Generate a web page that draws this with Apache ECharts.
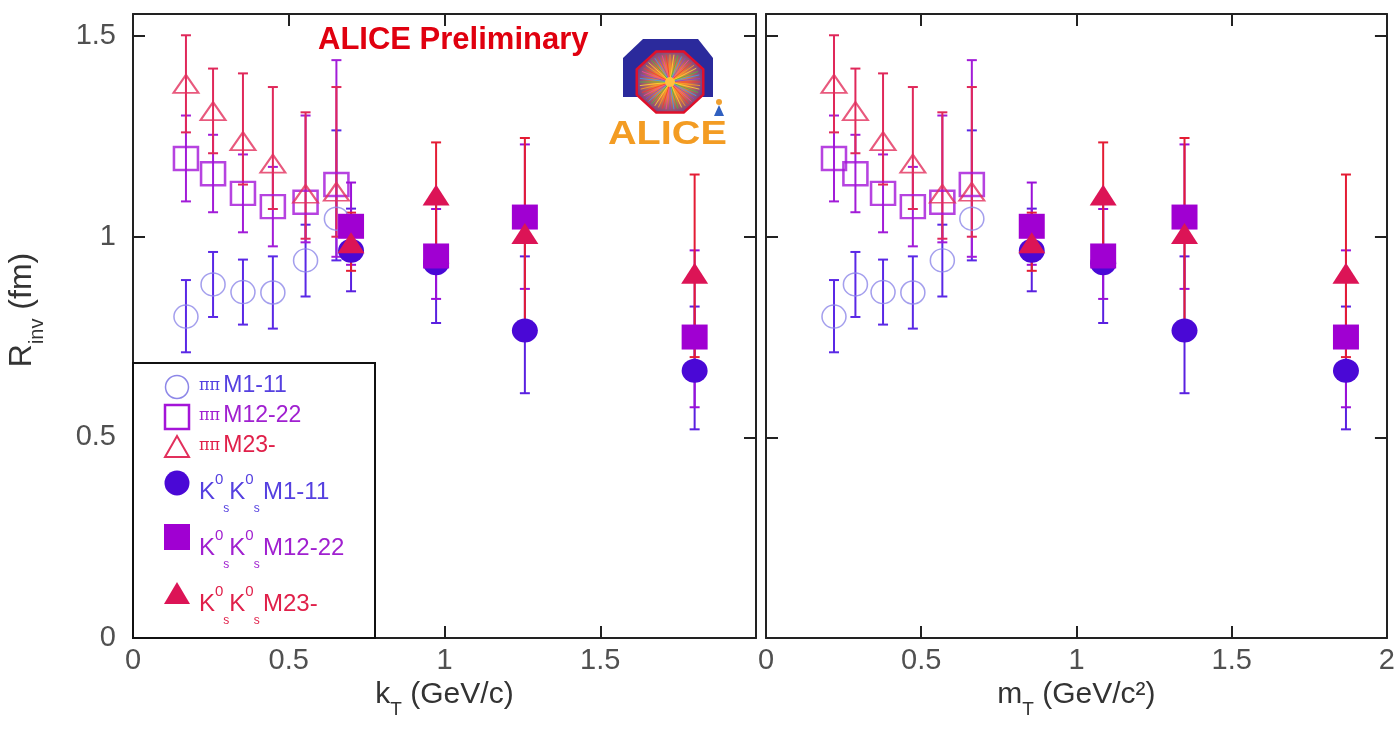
<!DOCTYPE html>
<html><head><meta charset="utf-8">
<script src="https://cdn.jsdelivr.net/npm/echarts@6/dist/echarts.min.js"></script>
<style>html,body{margin:0;padding:0;background:#fff}#c{width:1398px;height:740px}</style>
</head><body><div id="c"></div>
<script>
// ---- data ----
const kT_pi = [0.170, 0.257, 0.353, 0.449, 0.554, 0.653];
const mT_pi = [0.219, 0.288, 0.377, 0.473, 0.568, 0.663];
const kT_K  = [0.700, 0.973, 1.258, 1.803];
const mT_K  = [0.856, 1.086, 1.348, 1.868];

const piM1    = [0.801, 0.881, 0.862, 0.861, 0.941, 1.045];
const piM1_lo = [0.712, 0.800, 0.781, 0.771, 0.851, 0.941];
const piM1_hi = [0.892, 0.962, 0.943, 0.951, 1.030, 1.265];
const piM2    = [1.195, 1.157, 1.108, 1.075, 1.086, 1.130];
const piM2_lo = [1.088, 1.061, 1.011, 0.976, 0.986, 0.950];
const piM2_hi = [1.302, 1.254, 1.205, 1.174, 1.302, 1.440];
const piM3    = [1.381, 1.313, 1.238, 1.182, 1.107, 1.112];
const piM3_lo = [1.260, 1.208, 1.130, 1.069, 0.995, 1.000];
const piM3_hi = [1.502, 1.419, 1.407, 1.373, 1.310, 1.373];
const KM1     = [0.965, 0.934, 0.766, 0.666];
const KM1_lo  = [0.864, 0.785, 0.610, 0.520];
const KM1_hi  = [1.070, 1.083, 0.951, 0.826];
const KM2     = [1.026, 0.952, 1.049, 0.750];
const KM2_lo  = [0.930, 0.845, 0.870, 0.575];
const KM2_hi  = [1.135, 1.069, 1.230, 0.966];
const KM3     = [0.985, 1.104, 1.008, 0.909];
const KM3_lo  = [0.915, 0.965, 0.770, 0.700];
const KM3_hi  = [1.060, 1.235, 1.246, 1.155];

const xTicks = [0, 0.5, 1, 1.5, 2];
const yTicks = [0, 0.5, 1, 1.5];

// ---- styles ----
const FONT = 'Liberation Sans, Arial, Helvetica, sans-serif';
const sets = [
  {name:'piM1', kx:kT_pi, mx:mT_pi, y:piM1, lo:piM1_lo, hi:piM1_hi, symbol:'circle', size:[24,23], open:true,  col:'#8d87e8', bar:'#5a28e6', bw:1.5, z:3},
  {name:'piM2', kx:kT_pi, mx:mT_pi, y:piM2, lo:piM2_lo, hi:piM2_hi, symbol:'rect',   size:[24,23], open:true,  col:'#a414d8', bar:'#a21cd8', bw:2.5, z:3},
  {name:'piM3', kx:kT_pi, mx:mT_pi, y:piM3, lo:piM3_lo, hi:piM3_hi, symbol:'triangle', size:[25,18], open:true, col:'#e2305c', bar:'#e0285a', bw:2, z:3},
  {name:'KM1',  kx:kT_K,  mx:mT_K,  y:KM1,  lo:KM1_lo,  hi:KM1_hi,  symbol:'circle', size:[26,24], open:false, col:'#4a08d6', bar:'#5a20e0', z:4},
  {name:'KM2',  kx:kT_K,  mx:mT_K,  y:KM2,  lo:KM2_lo,  hi:KM2_hi,  symbol:'rect',   size:[26,25], open:false, col:'#a000d2', bar:'#9a10d8', z:5},
  {name:'KM3',  kx:kT_K,  mx:mT_K,  y:KM3,  lo:KM3_lo,  hi:KM3_hi,  symbol:'triangle', size:[27,21], open:false, col:'#dc1456', bar:'#e41c34', z:6}
];

function renderErr(params, api){
  const x = api.value(0), lo = api.value(1), hi = api.value(2);
  const a = api.coord([x, hi]), b = api.coord([x, lo]);
  const w = 5;
  const st = {stroke: api.visual('color'), lineWidth: 2};
  return {type:'group', children:[
    {type:'line', shape:{x1:a[0], y1:a[1], x2:b[0], y2:b[1]}, style:st},
    {type:'line', shape:{x1:a[0]-w, y1:a[1], x2:a[0]+w, y2:a[1]}, style:st},
    {type:'line', shape:{x1:b[0]-w, y1:b[1], x2:b[0]+w, y2:b[1]}, style:st}
  ]};
}

const series = [];
[['kx',0,0],['mx',2,2]].forEach(([key, xi, yi]) => {
  sets.forEach(s => {
    const xs = s[key];
    series.push({
      type:'custom', xAxisIndex:xi, yAxisIndex:yi, z:2, silent:true,
      itemStyle:{color:s.bar},
      encode:{x:0, y:[1,2]},
      data: xs.map((x,i)=>[x, s.lo[i], s.hi[i]]),
      renderItem: renderErr
    });
  });
  sets.forEach(s => {
    const xs = s[key];
    series.push({
      type:'scatter', xAxisIndex:xi, yAxisIndex:yi, z:s.z, silent:true,
      symbol:s.symbol, symbolSize:s.size,
      itemStyle: s.open ? {color:'rgba(0,0,0,0)', borderColor:s.col, borderWidth:s.bw}
                        : {color:s.col, opacity:1},
      data: xs.map((x,i)=>[x, s.y[i]])
    });
  });
});

const axLine = {show:true, onZero:false, lineStyle:{color:'#222', width:2}};
const tick = {show:true, inside:true, length:12, lineStyle:{color:'#222', width:2}};
const labelStyle = {fontFamily:FONT, fontSize:29, color:'#505050'};

function xAx(gi, pos, showLabel, name, showMax){
  return {type:'value', gridIndex:gi, position:pos, min:xTicks[0], max:xTicks[xTicks.length-1], interval:0.5,
    axisLine:axLine, axisTick:tick, splitLine:{show:false},
    axisLabel:Object.assign({show:showLabel, margin:8, showMaxLabel:showMax, showMinLabel:true,
       formatter: v => (xTicks.indexOf(+v.toFixed(3))>=0 ? String(+v.toFixed(3)) : '')}, labelStyle),
    name: name || '', nameLocation:'middle', nameGap:30,
    nameTextStyle:{fontFamily:FONT, fontSize:30, color:'#333',
      rich:{sub:{fontFamily:FONT, fontSize:19, color:'#333', verticalAlign:'bottom', lineHeight:48},
            n:{fontFamily:FONT, fontSize:30, color:'#333', lineHeight:48}}}
  };
}
function yAx(gi, pos, showLabel, name){
  return {type:'value', gridIndex:gi, position:pos, min:0, max:1.555, interval:0.5,
    axisLine:axLine, axisTick:tick, splitLine:{show:false},
    axisLabel:Object.assign({show:showLabel, margin:17, showMaxLabel:false,
       formatter: v => (yTicks.indexOf(+v.toFixed(3))>=0 ? String(+v.toFixed(3)) : '')}, labelStyle),
    name: name || '', nameLocation:'middle', nameGap:86, nameRotate:90,
    nameTextStyle:{fontFamily:FONT, fontSize:32, color:'#333', padding:[0,0,0,32],
      rich:{sub:{fontFamily:FONT, fontSize:20, color:'#333', verticalAlign:'bottom', lineHeight:50},
            n:{fontFamily:FONT, fontSize:32, color:'#333', lineHeight:50}}}
  };
}

// ---- legend (drawn as decoration) ----
function kLabel(y, tail, col){
  return {type:'text', left:199, top:y, z:20,
    style:{text:'{k|K}{sp|0}{sb|s}{k|K}{sp|0}{sb|s} {k|'+tail+'}', fill:col,
      rich:{k:{fontSize:24, fontFamily:FONT, fill:col, lineHeight:46, verticalAlign:'middle'},
            sp:{fontSize:15, fontFamily:FONT, fill:col, lineHeight:46, verticalAlign:'top', padding:[3,0,0,0]},
            sb:{fontSize:12, fontFamily:FONT, fill:col, lineHeight:46, verticalAlign:'bottom'}}}};
}
function piLabel(y, tail, col){
  return {type:'text', left:199, top:y, z:20, style:{text:'{p|ππ} {m|'+tail+'}',
    rich:{p:{fontFamily:'DejaVu Serif, serif', fontSize:16, fill:col}, m:{fontFamily:FONT, fontSize:23, fill:col}}}};
}
const legend = [
  {type:'rect', shape:{x:133, y:363, width:242, height:275}, style:{fill:'#fff', stroke:'#111', lineWidth:2}, z:15},
  {type:'circle', shape:{cx:177, cy:387, r:11.5}, style:{fill:'none', stroke:'#8d87e8', lineWidth:1.5}, z:20},
  {type:'rect', shape:{x:165, y:405, width:24, height:24}, style:{fill:'none', stroke:'#a414d8', lineWidth:2.5}, z:20},
  {type:'polygon', shape:{points:[[177,436],[165,457],[189,457]]}, style:{fill:'none', stroke:'#e2305c', lineWidth:2}, z:20},
  {type:'circle', shape:{cx:177, cy:483, r:12.5}, style:{fill:'#4a08d6'}, z:20},
  {type:'rect', shape:{x:164, y:524, width:26, height:26}, style:{fill:'#a000d2'}, z:20},
  {type:'polygon', shape:{points:[[177,582],[164,604],[190,604]]}, style:{fill:'#dc1456'}, z:20},
  piLabel(374, 'M1-11', '#5540e0'),
  piLabel(404, 'M12-22', '#a020d0'),
  piLabel(434, 'M23-', '#e0204a'),
  kLabel(469, 'M1-11', '#5540e0'),
  kLabel(525, 'M12-22', '#a020d0'),
  kLabel(581, 'M23-', '#e0204a')
];

// ---- ALICE logo (decoration) ----
const logo = [];
logo.push({type:'polygon', z:10, shape:{points:[[643,39],[698,39],[713,58],[713,97],[623,97],[623,58]]}, style:{fill:'#2b2a9c'}});
const cx = 670, cy = 82, rx = 36, ry = 33;
const oct = [];
for (let k=0;k<8;k++){ const a = (22.5+45*k)*Math.PI/180; oct.push([cx+rx*Math.cos(a), cy+ry*Math.sin(a)]); }
logo.push({type:'polygon', z:11, shape:{points:oct}, style:{fill:{type:'radial', x:0.5, y:0.5, r:0.6, colorStops:[{offset:0,color:'#ffb020'},{offset:0.45,color:'#e07a40'},{offset:1,color:'#5030a0'}]}, stroke:'#e0102a', lineWidth:2.5}});
const rayCols = ['#ff3030','#ffa020','#ffe030','#40c040','#30a0ff','#8040e0','#ff40a0'];
for (let k=0;k<48;k++){
  const a = k*7.5*Math.PI/180;
  logo.push({type:'line', z:12, shape:{x1:cx+4*Math.cos(a), y1:cy+4*Math.sin(a), x2:cx+(rx-4)*Math.cos(a)*0.95, y2:cy+(ry-4)*Math.sin(a)*0.95},
    style:{stroke:rayCols[k%rayCols.length], lineWidth:1, opacity:0.8}});
}
logo.push({type:'circle', z:13, shape:{cx:cx, cy:cy, r:5}, style:{fill:'#ffc040'}});
logo.push({type:'circle', z:12, shape:{cx:719, cy:102, r:3}, style:{fill:'#f0a030'}});
logo.push({type:'polygon', z:12, shape:{points:[[719,105],[714,116],[724,116]]}, style:{fill:'#3060c0'}});
logo.push({type:'text', z:12, x:608, y:118, scaleX:1.2, style:{text:'ALICE', fill:'#f39c23', font:'bold 33px '+FONT}});

const option = {
  animation:false,
  backgroundColor:'#fff',
  grid:[{left:133, top:14, width:623, height:624}, {left:766, top:14, width:626, height:624}],
  xAxis:[
    xAx(0,'bottom',true,'{n|k}{sub|T}{n| (GeV/c)}',false),
    xAx(0,'top',false,'',true),
    xAx(1,'bottom',true,'{n|m}{sub|T}{n| (GeV/c²)}',true),
    xAx(1,'top',false,'',true)
  ],
  yAxis:[
    yAx(0,'left',true,'{n|R}{sub|inv}{n| (fm)}'),
    yAx(0,'right',false,''),
    yAx(1,'left',false,''),
    yAx(1,'right',false,'')
  ],
  series: series,
  graphic: [
    {type:'text', left:318, top:25, z:20, style:{text:'ALICE Preliminary', fill:'#e0000f', font:'bold 31px '+FONT}}
  ].concat(legend, logo)
};

const chart = echarts.init(document.getElementById('c'), null, {renderer:'canvas'});
chart.setOption(option);
</script>
</body></html>
